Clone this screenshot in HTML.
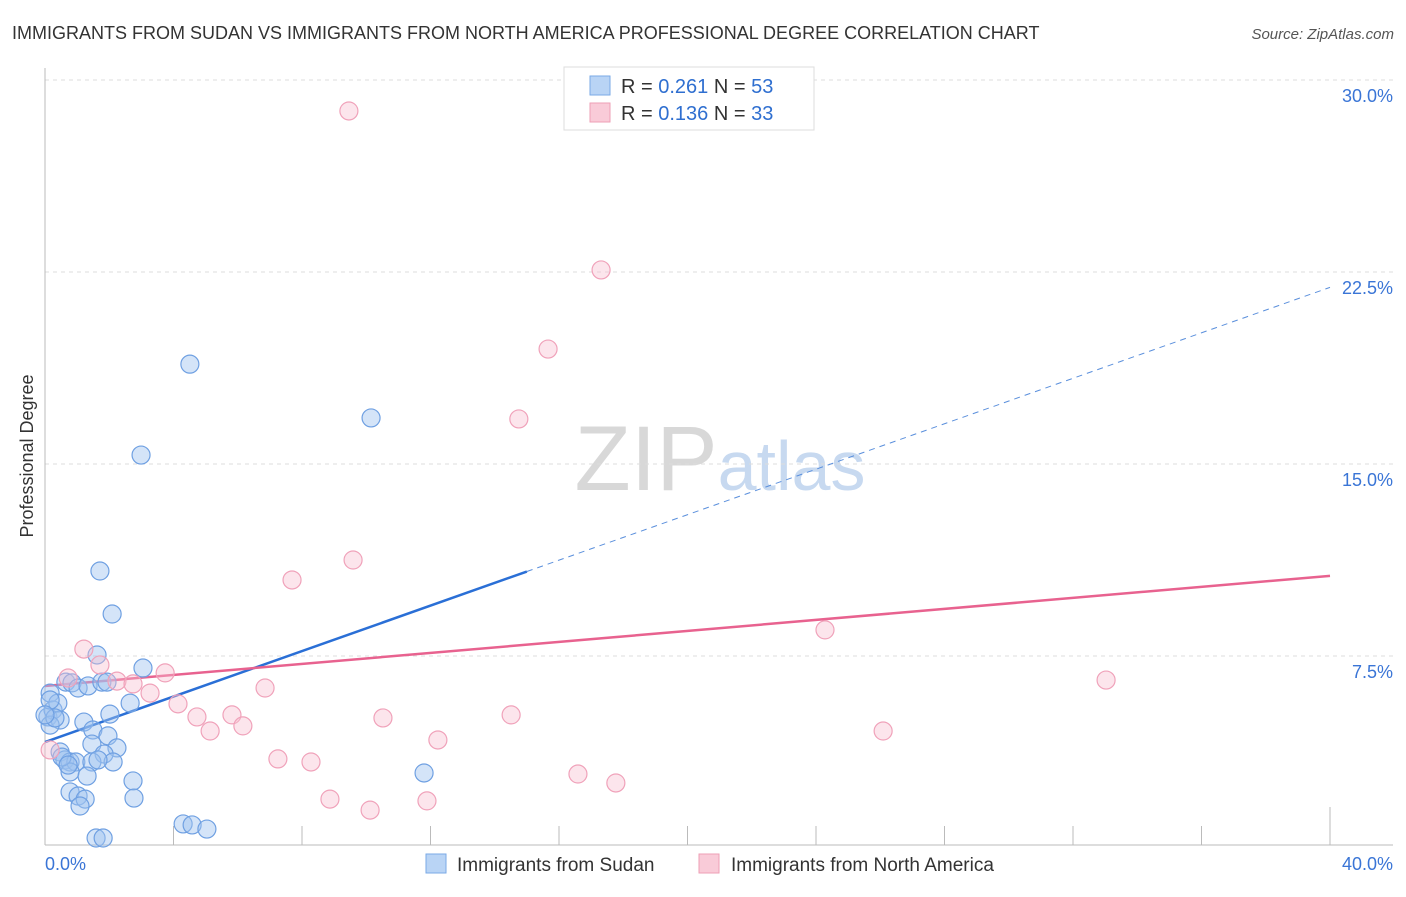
<!DOCTYPE html>
<html><head><meta charset="utf-8"><style>
body{margin:0;background:#fff;font-family:"Liberation Sans",sans-serif;}
svg text{font-family:"Liberation Sans",sans-serif;}
</style></head><body>
<svg id="chart" width="1406" height="892" xmlns="http://www.w3.org/2000/svg">
<text x="12" y="39" font-size="18" fill="#333">IMMIGRANTS FROM SUDAN VS IMMIGRANTS FROM NORTH AMERICA PROFESSIONAL DEGREE CORRELATION CHART</text>
<text x="1394" y="39" font-size="15" fill="#555" text-anchor="end" font-style="italic">Source: ZipAtlas.com</text>
<text transform="translate(33,456) rotate(-90)" font-size="18" fill="#333" text-anchor="middle">Professional Degree</text>
<text x="720" y="490" font-size="92" text-anchor="middle" fill="#ddd" font-family="Liberation Serif"><tspan fill="#d8d8d8">ZIP</tspan><tspan fill="#c7d9f0" font-family="Liberation Sans" font-size="70">atlas</tspan></text>
<g id="grid"></g><g id="axes"></g><g id="trend"></g><g id="pts"></g>
<g>
<rect x="564" y="67" width="250" height="63" fill="#fff" stroke="#ddd"/>
<rect x="590" y="76" width="20" height="19" fill="#b9d4f5" stroke="#7aaae6"/>
<text x="621" y="93" font-size="20" fill="#333">R = <tspan fill="#2f6fd0">0.261</tspan>   N = <tspan fill="#2f6fd0">53</tspan></text>
<rect x="590" y="103" width="20" height="19" fill="#f9cbd8" stroke="#ee9fb6"/>
<text x="621" y="120" font-size="20" fill="#333">R = <tspan fill="#2f6fd0">0.136</tspan>   N = <tspan fill="#2f6fd0">33</tspan></text>
</g>
<g>
<rect x="426" y="854" width="20" height="19" fill="#b9d4f5" stroke="#7aaae6"/>
<text x="457" y="871" font-size="19" fill="#333">Immigrants from Sudan</text>
<rect x="699" y="854" width="20" height="19" fill="#f9cbd8" stroke="#ee9fb6"/>
<text x="731" y="871" font-size="19" fill="#333">Immigrants from North America</text>
</g>
</svg>
<script>
const yTicks=[7.5,15,22.5,30];
const yTickLabels=["7.5%","15.0%","22.5%","30.0%"];
const xTickLabels=["0.0%","40.0%"];
const sudanX=[.16,.09,.25,.40,.47,.16,.31,.65,.84,1.03,1.34,1.77,1.93,1.62,3.05,2.65,2.02,1.21,1.49,1.96,1.46,2.24,1.84,.47,.62,.78,.96,1.46,2.12,1.65,.78,1.31,2.74,.78,1.03,1.25,1.09,2.77,1.71,2.09,2.99,4.51,10.15,11.8,4.3,4.58,5.04,1.59,1.81,.16,.53,.72,0];
const sudanY=[6.05,5.12,5.39,5.66,5.0,4.8,5.08,6.48,6.45,6.25,6.33,6.48,6.48,7.54,7.03,5.66,5.23,4.92,4.61,4.38,4.06,3.91,3.67,3.75,3.44,3.36,3.36,3.36,3.36,3.44,2.97,2.81,2.62,2.19,2.03,1.91,1.64,1.95,10.82,9.14,15.35,18.9,16.8,2.93,.94,.9,.74,.39,.39,5.78,3.55,3.24,5.2];
const naX=[9.46,17.31,15.66,14.75,9.59,7.69,24.28,33.03,1.21,1.71,.72,2.24,2.74,3.27,3.74,4.14,4.73,5.14,5.82,6.16,6.85,7.25,8.28,8.87,10.12,10.52,12.23,11.89,14.51,16.59,17.77,26.09,.16];
const naY=[28.79,22.58,19.49,16.76,11.25,10.47,8.52,6.56,7.77,7.15,6.64,6.52,6.41,6.05,6.84,5.63,5.12,4.57,5.2,4.77,6.25,3.48,3.36,1.91,1.48,5.08,4.22,1.84,5.2,2.89,2.54,4.57,3.83];
const sudanTrend=[4.14,21.9];
const naTrend=[6.33,10.63];
const NS="http://www.w3.org/2000/svg";
const X=v=>45+v*32.125, Y=v=>848-v*25.6;
function mk(t,a,p){const e=document.createElementNS(NS,t);for(const k in a)e.setAttribute(k,a[k]);document.getElementById(p).appendChild(e);return e;}
yTicks.forEach((t,i)=>{
 const g=mk('line',{x1:45,x2:1393,y1:Y(t),y2:Y(t),stroke:'#ddd','stroke-dasharray':'4,4'},'grid');
 
 
 const l=mk('text',{x:1393,y:Y(t)+22,'font-size':18,fill:'#3a75d6','text-anchor':'end'},'grid');l.textContent=yTickLabels[i];
 
 
});
mk('line',{x1:45,x2:45,y1:68,y2:845,stroke:'#bbb'},'axes');
mk('line',{x1:45,x2:1393,y1:845,y2:845,stroke:'#bbb'},'axes');
for(let i=1;i<=10;i++){const t=mk('line',{x1:X(i*4),x2:X(i*4),y1:i==10?807:826,y2:845,stroke:'#bbb'},'axes');
 
 }
const xl0=mk('text',{x:45,y:870,'font-size':18,fill:'#3a75d6'},'axes');xl0.textContent=xTickLabels[0];


const xl1=mk('text',{x:1393,y:870,'font-size':18,fill:'#3a75d6','text-anchor':'end'},'axes');xl1.textContent=xTickLabels[1];


const bs=v=>sudanTrend[0]+(sudanTrend[1]-sudanTrend[0])*v/40;
const t1=mk('line',{x1:X(0),y1:Y(bs(0)),x2:X(15),y2:Y(bs(15)),stroke:'#2a6fd6','stroke-width':2.5},'trend');


const t2=mk('line',{x1:X(15),y1:Y(bs(15)),x2:X(40),y2:Y(bs(40)),stroke:'#5a8fdc','stroke-width':1,'stroke-dasharray':'6,5'},'trend');


const t3=mk('line',{x1:X(0),y1:Y(naTrend[0]),x2:X(40),y2:Y(naTrend[1]),stroke:'#e8628f','stroke-width':2.5},'trend');


sudanX.forEach((x,i)=>{const c=mk('circle',{cx:X(x),cy:Y(sudanY[i]),r:9,fill:'rgba(160,195,240,0.45)',stroke:'#6fa0e2','stroke-width':1.2},'pts');
 
 });
naX.forEach((x,i)=>{const c=mk('circle',{cx:X(x),cy:Y(naY[i]),r:9,fill:'rgba(248,190,208,0.4)',stroke:'#f0a2ba','stroke-width':1.2},'pts');
 
 });
</script>
</body></html>
